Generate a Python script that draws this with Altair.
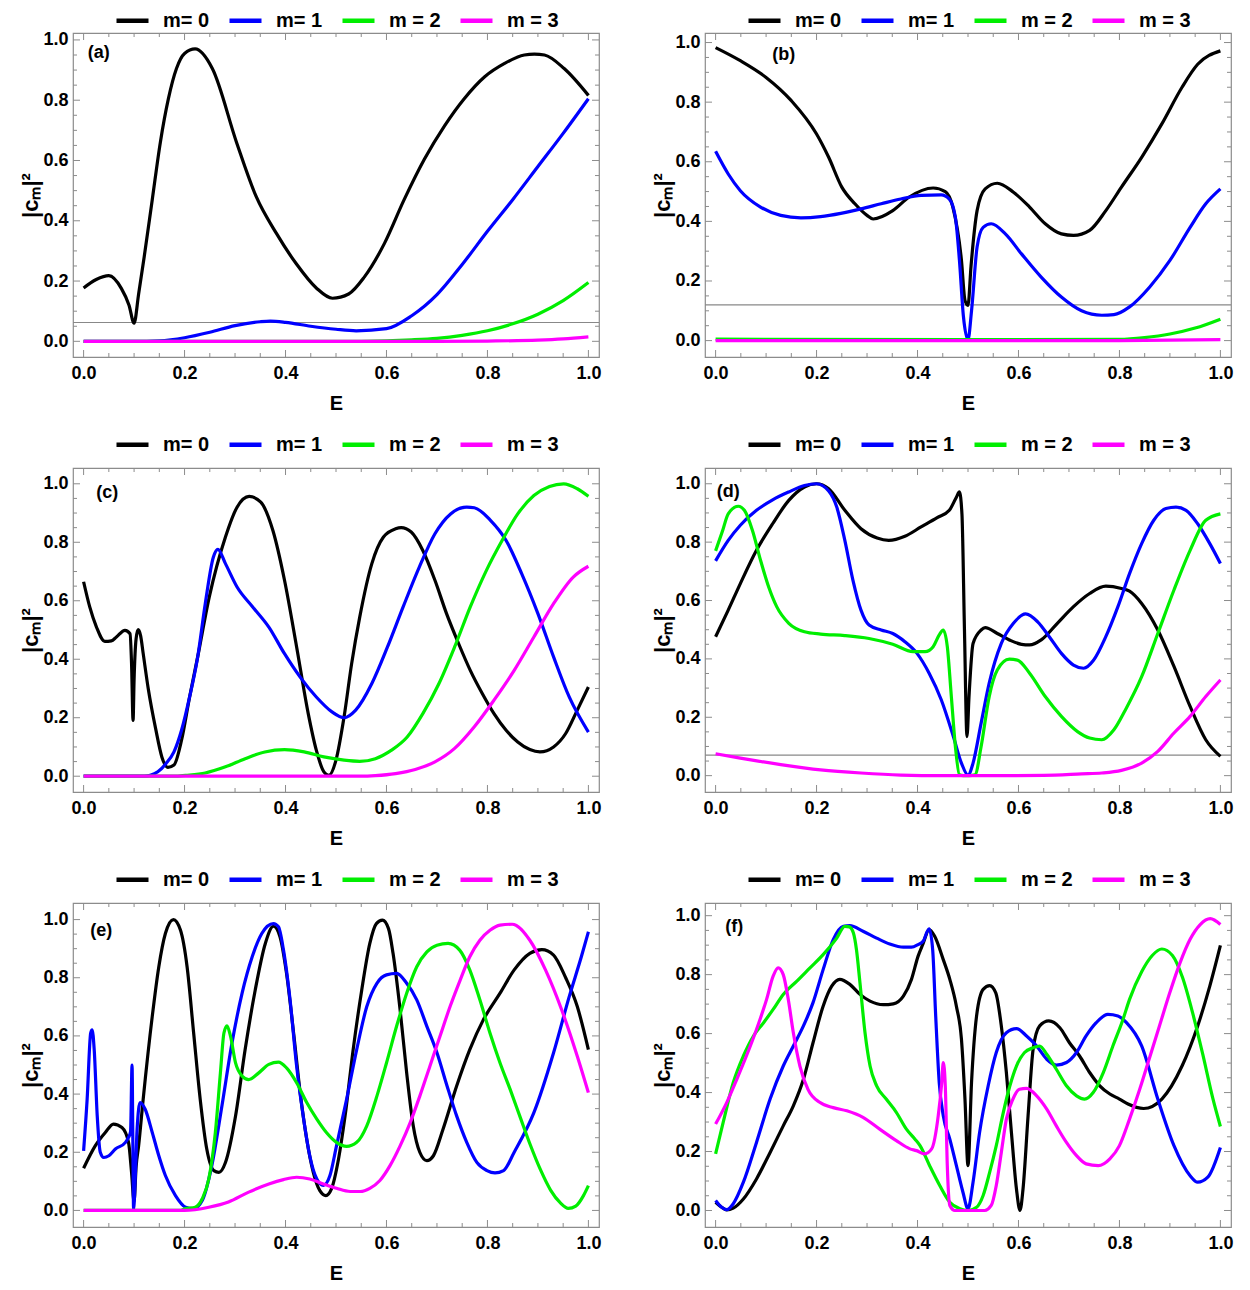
import altair as alt
import pandas as pd

SERIES = ["m= 0", "m= 1", "m = 2", "m = 3"]
COLORS = ["#000000", "#0000ff", "#00ee00", "#ff00ff"]
FONT = "Liberation Sans"

# ---------------- panel (a) ----------------
A0_E = [0, 0.025, 0.05, 0.075, 0.09, 0.1, 0.109, 0.12, 0.136, 0.152, 0.168, 0.184, 0.2, 0.221, 0.255, 0.303,
        0.342, 0.382, 0.421, 0.461, 0.493, 0.525, 0.556, 0.596, 0.635, 0.675, 0.715, 0.754, 0.794, 0.834,
        0.873, 0.893, 0.913, 0.952, 1.0]
A0_C = [0.177, 0.205, 0.218, 0.175, 0.12, 0.06, 0.157, 0.28, 0.47, 0.66, 0.805, 0.905, 0.955, 0.97, 0.905, 0.66,
        0.48, 0.358, 0.258, 0.177, 0.143, 0.157, 0.213, 0.325, 0.47, 0.604, 0.715, 0.805, 0.877, 0.922,
        0.95, 0.953, 0.95, 0.905, 0.816]
A1_E = [0, 0.1, 0.15, 0.2, 0.25, 0.3, 0.35, 0.37, 0.4, 0.45, 0.5, 0.54, 0.6, 0.65, 0.7, 0.75, 0.8, 0.85, 0.9, 0.95, 1.0]
A1_C = [0, 0, 0.002, 0.012, 0.03, 0.052, 0.065, 0.067, 0.063, 0.05, 0.04, 0.035, 0.042, 0.085, 0.155, 0.255,
        0.365, 0.47, 0.58, 0.69, 0.805]
A2_E = [0, 0.5, 0.6, 0.65, 0.7, 0.75, 0.8, 0.85, 0.9, 0.95, 1.0]
A2_C = [0, 0, 0.002, 0.005, 0.01, 0.02, 0.035, 0.058, 0.09, 0.135, 0.195]
A3_E = [0, 0.7, 0.8, 0.9, 0.95, 1.0]
A3_C = [0, 0, 0.001, 0.004, 0.008, 0.015]

# ---------------- panel (b) ----------------
B0_E = [0, 0.049, 0.1, 0.15, 0.2, 0.224, 0.25, 0.276, 0.3, 0.312, 0.351, 0.383, 0.431, 0.455, 0.47, 0.487,
        0.494, 0.5, 0.506, 0.518, 0.534, 0.558, 0.59, 0.622, 0.653, 0.685, 0.709, 0.741, 0.773, 0.804,
        0.844, 0.884, 0.924, 0.955, 1.0]
B0_C = [0.983, 0.939, 0.883, 0.805, 0.693, 0.615, 0.515, 0.459, 0.42, 0.408, 0.436, 0.481, 0.512, 0.5, 0.448,
        0.27, 0.135, 0.118, 0.25, 0.436, 0.509, 0.528, 0.498, 0.448, 0.392, 0.358, 0.353, 0.37, 0.436, 0.515,
        0.615, 0.727, 0.85, 0.927, 0.972]
B1_E = [0, 0.025, 0.049, 0.089, 0.129, 0.169, 0.208, 0.248, 0.288, 0.328, 0.367, 0.407, 0.447, 0.463, 0.475,
        0.483, 0.491, 0.5, 0.507, 0.518, 0.53, 0.546, 0.574, 0.606, 0.645, 0.685, 0.725, 0.765, 0.789, 0.82,
        0.86, 0.9, 0.94, 0.971, 1.0]
B1_C = [0.635, 0.559, 0.503, 0.448, 0.42, 0.412, 0.416, 0.427, 0.442, 0.459, 0.475, 0.487, 0.489, 0.475, 0.414,
        0.27, 0.08, 0.003, 0.1, 0.314, 0.38, 0.392, 0.358, 0.291, 0.213, 0.146, 0.1, 0.085, 0.087, 0.113,
        0.18, 0.269, 0.38, 0.459, 0.509]
B2_E = [0, 0.5, 0.8, 0.85, 0.9, 0.95, 1.0]
B2_C = [0.005, 0.003, 0.004, 0.01, 0.022, 0.042, 0.072]
B3_E = [0, 0.8, 1.0]
B3_C = [0, 0, 0.003]

# ---------------- panel (c) ----------------
C0_E = [0, 0.0123, 0.0255, 0.042, 0.055, 0.065, 0.082, 0.092, 0.095, 0.098, 0.1, 0.104, 0.108, 0.113, 0.118,
        0.128, 0.143, 0.155, 0.167, 0.179, 0.194, 0.21, 0.226, 0.249, 0.281, 0.304, 0.328, 0.351, 0.375,
        0.398, 0.422, 0.445, 0.461, 0.476, 0.486, 0.5, 0.516, 0.531, 0.547, 0.571, 0.594, 0.618, 0.629,
        0.649, 0.672, 0.696, 0.719, 0.743, 0.766, 0.79, 0.813, 0.837, 0.86, 0.884, 0.904, 0.931, 0.955,
        0.978, 1.0]
C0_C = [0.665, 0.578, 0.51, 0.461, 0.463, 0.476, 0.499, 0.487, 0.385, 0.191, 0.33, 0.47, 0.501, 0.48, 0.42,
        0.3, 0.16, 0.066, 0.03, 0.038, 0.123, 0.271, 0.408, 0.613, 0.818, 0.92, 0.957, 0.937, 0.84,
        0.67, 0.442, 0.214, 0.089, 0.015, 0.003, 0.055, 0.203, 0.385, 0.544, 0.727, 0.818, 0.846, 0.85,
        0.835, 0.772, 0.67, 0.556, 0.453, 0.362, 0.282, 0.214, 0.157, 0.117, 0.091, 0.083, 0.1, 0.146,
        0.226, 0.305]
C1_E = [0, 0.12, 0.132, 0.147, 0.163, 0.179, 0.194, 0.21, 0.226, 0.241, 0.257, 0.266, 0.281, 0.304, 0.335,
        0.367, 0.398, 0.429, 0.461, 0.492, 0.516, 0.539, 0.571, 0.602, 0.633, 0.665, 0.696, 0.727, 0.759,
        0.774, 0.806, 0.837, 0.868, 0.9, 0.931, 0.962, 1.0]
C1_C = [0, 0, 0.003, 0.015, 0.043, 0.083, 0.157, 0.271, 0.408, 0.59, 0.749, 0.776, 0.727, 0.647, 0.579,
        0.51, 0.419, 0.339, 0.271, 0.22, 0.2, 0.226, 0.317, 0.442, 0.579, 0.715, 0.829, 0.897, 0.92,
        0.918, 0.875, 0.806, 0.692, 0.556, 0.408, 0.271, 0.151]
C2_E = [0, 0.18, 0.202, 0.241, 0.281, 0.32, 0.359, 0.398, 0.437, 0.476, 0.516, 0.547, 0.578, 0.61, 0.641,
        0.672, 0.704, 0.735, 0.766, 0.798, 0.829, 0.86, 0.892, 0.923, 0.951, 0.978, 1.0]
C2_C = [0, 0, 0.003, 0.011, 0.032, 0.06, 0.083, 0.091, 0.083, 0.066, 0.055, 0.051, 0.06, 0.089, 0.134,
        0.214, 0.317, 0.442, 0.579, 0.704, 0.806, 0.897, 0.96, 0.991, 1.0, 0.983, 0.957]
C3_E = [0, 0.55, 0.578, 0.618, 0.657, 0.696, 0.735, 0.774, 0.813, 0.853, 0.892, 0.931, 0.97, 1.0]
C3_C = [0, 0, 0.002, 0.009, 0.023, 0.049, 0.095, 0.169, 0.26, 0.362, 0.476, 0.59, 0.681, 0.718]

# ---------------- panel (d) ----------------
D0_E = [0, 0.025, 0.049, 0.081, 0.113, 0.145, 0.176, 0.2, 0.224, 0.256, 0.288, 0.32, 0.343, 0.375, 0.407,
        0.439, 0.463, 0.477, 0.483, 0.488, 0.493, 0.498, 0.502, 0.51, 0.526, 0.534, 0.558, 0.582, 0.606,
        0.622, 0.645, 0.677, 0.709, 0.741, 0.773, 0.804, 0.82, 0.844, 0.876, 0.908, 0.94, 0.971, 1.0]
D0_C = [0.476, 0.567, 0.658, 0.772, 0.863, 0.943, 0.989, 1.0, 0.983, 0.909, 0.846, 0.814, 0.806, 0.82, 0.852,
        0.884, 0.909, 0.954, 0.972, 0.897, 0.499, 0.134, 0.271, 0.453, 0.499, 0.507, 0.487, 0.465, 0.45,
        0.448, 0.465, 0.522, 0.579, 0.624, 0.649, 0.641, 0.632, 0.59, 0.499, 0.374, 0.237, 0.123, 0.066]
D1_E = [0, 0.025, 0.049, 0.081, 0.113, 0.145, 0.176, 0.2, 0.224, 0.24, 0.256, 0.272, 0.288, 0.304, 0.328,
        0.351, 0.375, 0.399, 0.423, 0.447, 0.471, 0.487, 0.5, 0.51, 0.526, 0.542, 0.566, 0.59, 0.614, 0.638,
        0.661, 0.685, 0.709, 0.729, 0.749, 0.773, 0.797, 0.82, 0.844, 0.868, 0.892, 0.912, 0.932, 0.955,
        0.979, 1.0]
D1_C = [0.736, 0.806, 0.858, 0.909, 0.945, 0.972, 0.994, 1.0, 0.975, 0.92, 0.806, 0.67, 0.567, 0.516, 0.499,
        0.487, 0.459, 0.419, 0.351, 0.26, 0.134, 0.043, 0.002, 0.043, 0.18, 0.317, 0.453, 0.522, 0.554, 0.527,
        0.476, 0.419, 0.379, 0.368, 0.396, 0.476, 0.579, 0.692, 0.795, 0.875, 0.915, 0.92, 0.909, 0.863,
        0.795, 0.727]
D2_E = [0, 0.014, 0.025, 0.045, 0.057, 0.073, 0.089, 0.105, 0.121, 0.145, 0.176, 0.208, 0.256, 0.304, 0.351,
        0.391, 0.415, 0.431, 0.443, 0.451, 0.459, 0.467, 0.475, 0.483, 0.491, 0.502, 0.514, 0.526, 0.542,
        0.558, 0.582, 0.598, 0.622, 0.653, 0.685, 0.717, 0.741, 0.765, 0.789, 0.812, 0.844, 0.876, 0.908,
        0.94, 0.971, 1.0]
D2_C = [0.77, 0.84, 0.897, 0.923, 0.909, 0.84, 0.738, 0.647, 0.579, 0.522, 0.493, 0.485, 0.48, 0.47, 0.45,
        0.425, 0.425, 0.442, 0.482, 0.499, 0.442, 0.271, 0.1, 0.003, 0.0, 0.0, 0.003, 0.1, 0.271,
        0.362, 0.399, 0.396, 0.351, 0.271, 0.203, 0.151, 0.129, 0.123, 0.157, 0.226, 0.339, 0.487, 0.636,
        0.772, 0.875, 0.897]
D3_E = [0, 0.049, 0.129, 0.208, 0.288, 0.367, 0.45, 0.55, 0.65, 0.725, 0.765, 0.804, 0.844, 0.876, 0.908,
        0.94, 0.971, 1.0]
D3_C = [0.075, 0.06, 0.038, 0.02, 0.009, 0.002, 0.0, 0.0, 0.001, 0.006, 0.009, 0.018, 0.043, 0.083, 0.146,
        0.203, 0.271, 0.328]

# ---------------- panel (e) ----------------
E0_E = [0, 0.023, 0.043, 0.059, 0.076, 0.089, 0.095, 0.1, 0.104, 0.109, 0.118, 0.136, 0.149, 0.162, 0.178,
        0.192, 0.205, 0.218, 0.231, 0.244, 0.258, 0.268, 0.281, 0.301, 0.32, 0.34, 0.36, 0.376, 0.389,
        0.402, 0.416, 0.429, 0.442, 0.455, 0.468, 0.48, 0.491, 0.505, 0.518, 0.534, 0.551, 0.567, 0.58,
        0.592, 0.604, 0.613, 0.627, 0.64, 0.653, 0.666, 0.68, 0.693, 0.712, 0.739, 0.765, 0.792, 0.825,
        0.853, 0.884, 0.908, 0.931, 0.955, 0.978, 1.0]
E0_C = [0.145, 0.222, 0.268, 0.297, 0.285, 0.234, 0.131, 0.03, 0.15, 0.222, 0.382, 0.667, 0.838, 0.952, 1.0,
        0.963, 0.838, 0.61, 0.382, 0.211, 0.137, 0.131, 0.165, 0.325, 0.553, 0.758, 0.918, 0.977, 0.941,
        0.815, 0.61, 0.405, 0.245, 0.131, 0.068, 0.051, 0.074, 0.177, 0.325, 0.553, 0.758, 0.918, 0.986,
        0.998, 0.969, 0.884, 0.69, 0.473, 0.291, 0.2, 0.171, 0.188, 0.279, 0.428, 0.553, 0.656, 0.747,
        0.827, 0.884, 0.897, 0.878, 0.8, 0.701, 0.553]
E1_E = [0, 0.007, 0.014, 0.017, 0.021, 0.027, 0.033, 0.04, 0.05, 0.063, 0.083, 0.089, 0.093, 0.096, 0.0975,
        0.099, 0.1025, 0.106, 0.112, 0.122, 0.136, 0.149, 0.162, 0.182, 0.202, 0.218, 0.235, 0.254, 0.274,
        0.294, 0.314, 0.334, 0.353, 0.376, 0.386, 0.396, 0.409, 0.422, 0.435, 0.448, 0.462, 0.475, 0.488,
        0.501, 0.521, 0.541, 0.561, 0.581, 0.6, 0.62, 0.64, 0.66, 0.68, 0.7, 0.72, 0.739, 0.759, 0.779,
        0.799, 0.815, 0.832, 0.853, 0.892, 0.931, 0.962, 0.986, 1.0]
E1_C = [0.205, 0.382, 0.61, 0.621, 0.553, 0.325, 0.2, 0.182, 0.188, 0.211, 0.234, 0.251, 0.27, 0.5, 0.25,
        0.003, 0.12, 0.28, 0.371, 0.348, 0.268, 0.188, 0.12, 0.051, 0.011, 0.006, 0.034, 0.154, 0.359,
        0.576, 0.747, 0.872, 0.952, 0.986, 0.975, 0.895, 0.724, 0.496, 0.325, 0.188, 0.108, 0.086, 0.12,
        0.222, 0.382, 0.553, 0.701, 0.781, 0.81, 0.815, 0.781, 0.724, 0.633, 0.542, 0.428, 0.325, 0.234, 0.165,
        0.137, 0.129, 0.137, 0.2, 0.336, 0.542, 0.735, 0.872, 0.958]
E2_E = [0, 0.19, 0.202, 0.221, 0.235, 0.248, 0.261, 0.271, 0.278, 0.284, 0.291, 0.301, 0.314, 0.327, 0.347,
        0.367, 0.386, 0.402, 0.422, 0.442, 0.462, 0.481, 0.501, 0.521, 0.541, 0.561, 0.581, 0.6, 0.62, 0.64,
        0.66, 0.68, 0.7, 0.722, 0.745, 0.765, 0.785, 0.805, 0.825, 0.845, 0.865, 0.885, 0.905, 0.925, 0.945,
        0.96, 0.975, 0.99, 1.0]
E2_C = [0, 0, 0.006, 0.011, 0.04, 0.108, 0.268, 0.473, 0.61, 0.635, 0.599, 0.507, 0.462, 0.45, 0.473,
        0.502, 0.51, 0.49, 0.439, 0.371, 0.314, 0.268, 0.234, 0.22, 0.234, 0.291, 0.393, 0.507, 0.633, 0.747,
        0.838, 0.889, 0.912, 0.918, 0.895, 0.827, 0.724, 0.61, 0.507, 0.416, 0.32, 0.225, 0.14, 0.07, 0.025,
        0.007, 0.015, 0.05, 0.085]
E3_E = [0, 0.2, 0.248, 0.287, 0.327, 0.367, 0.396, 0.422, 0.448, 0.475, 0.501, 0.528, 0.548, 0.567, 0.587,
        0.607, 0.627, 0.647, 0.666, 0.686, 0.706, 0.726, 0.746, 0.765, 0.785, 0.805, 0.825, 0.849, 0.884,
        0.915, 0.947, 0.978, 1.0]
E3_C = [0, 0, 0.011, 0.029, 0.063, 0.091, 0.106, 0.114, 0.108, 0.091, 0.076, 0.065, 0.065, 0.076, 0.103,
        0.154, 0.222, 0.302, 0.393, 0.496, 0.599, 0.701, 0.792, 0.872, 0.929, 0.963, 0.981, 0.984, 0.929,
        0.827, 0.69, 0.53, 0.405]

# ---------------- panel (f) ----------------
F0_E = [0, 0.012, 0.022, 0.035, 0.055, 0.081, 0.108, 0.134, 0.154, 0.174, 0.193, 0.213, 0.23, 0.246, 0.266,
        0.286, 0.306, 0.332, 0.352, 0.372, 0.388, 0.401, 0.411, 0.423, 0.434, 0.451, 0.464, 0.477, 0.487,
        0.494, 0.5, 0.507, 0.517, 0.53, 0.543, 0.555, 0.566, 0.576, 0.586, 0.596, 0.603, 0.609, 0.619,
        0.629, 0.642, 0.66, 0.682, 0.701, 0.721, 0.741, 0.761, 0.781, 0.8, 0.817, 0.848, 0.884, 0.924,
        0.955, 0.979, 1.0]
F0_C = [0.028, 0.011, 0.002, 0.008, 0.039, 0.107, 0.197, 0.287, 0.355, 0.445, 0.569, 0.693, 0.761, 0.784, 0.767,
        0.733, 0.71, 0.698, 0.701, 0.727, 0.784, 0.862, 0.905, 0.953, 0.93, 0.851, 0.784, 0.693, 0.581,
        0.378, 0.152, 0.434, 0.66, 0.75, 0.763, 0.738, 0.626, 0.468, 0.265, 0.073, 0.0, 0.073, 0.321,
        0.547, 0.626, 0.643, 0.62, 0.569, 0.524, 0.468, 0.423, 0.395, 0.378, 0.361, 0.346, 0.378, 0.49,
        0.626, 0.761, 0.899]
F1_E = [0, 0.012, 0.022, 0.035, 0.055, 0.081, 0.108, 0.134, 0.154, 0.174, 0.193, 0.213, 0.233, 0.253, 0.266,
        0.292, 0.319, 0.345, 0.372, 0.388, 0.401, 0.411, 0.423, 0.43, 0.436, 0.443, 0.451, 0.464, 0.477,
        0.49, 0.5, 0.51, 0.523, 0.54, 0.556, 0.576, 0.596, 0.616, 0.636, 0.656, 0.675, 0.695, 0.715, 0.734,
        0.754, 0.777, 0.797, 0.814, 0.844, 0.876, 0.908, 0.94, 0.955, 0.975, 1.0]
F1_C = [0.034, 0.011, 0.003, 0.023, 0.096, 0.231, 0.378, 0.49, 0.558, 0.626, 0.705, 0.817, 0.919, 0.964, 0.966,
        0.947, 0.924, 0.904, 0.893, 0.893, 0.902, 0.913, 0.955, 0.885, 0.66, 0.434, 0.321, 0.242, 0.152,
        0.062, 0.006, 0.096, 0.265, 0.423, 0.536, 0.603, 0.617, 0.592, 0.558, 0.513, 0.493, 0.502, 0.536, 0.592,
        0.637, 0.665, 0.66, 0.637, 0.558, 0.378, 0.22, 0.118, 0.096, 0.113, 0.214]
F2_E = [0, 0.015, 0.035, 0.055, 0.075, 0.095, 0.114, 0.134, 0.161, 0.187, 0.213, 0.24, 0.256, 0.265, 0.273,
        0.279, 0.286, 0.296, 0.306, 0.319, 0.338, 0.358, 0.378, 0.395, 0.405, 0.424, 0.444, 0.464, 0.484,
        0.5, 0.517, 0.53, 0.543, 0.556, 0.57, 0.583, 0.596, 0.612, 0.629, 0.642, 0.656, 0.675, 0.695, 0.715,
        0.731, 0.748, 0.768, 0.787, 0.807, 0.82, 0.844, 0.865, 0.884, 0.905, 0.925, 0.945, 0.965, 0.985, 1.0]
F2_C = [0.192, 0.299, 0.434, 0.524, 0.592, 0.637, 0.682, 0.733, 0.778, 0.823, 0.868, 0.924, 0.964, 0.962, 0.941,
        0.885, 0.772, 0.603, 0.49, 0.423, 0.378, 0.333, 0.276, 0.242, 0.22, 0.152, 0.085, 0.028, 0.006,
        0.0, 0.011, 0.051, 0.13, 0.22, 0.333, 0.423, 0.49, 0.536, 0.552, 0.558, 0.53, 0.479, 0.423, 0.389,
        0.378, 0.4, 0.468, 0.558, 0.648, 0.716, 0.81, 0.865, 0.887, 0.865, 0.79, 0.67, 0.53, 0.38, 0.285]
F3_E = [0, 0.022, 0.042, 0.061, 0.081, 0.101, 0.114, 0.124, 0.134, 0.144, 0.154, 0.167, 0.183, 0.207, 0.233,
        0.26, 0.292, 0.325, 0.358, 0.385, 0.398, 0.414, 0.428, 0.441, 0.448, 0.451, 0.455, 0.459, 0.464,
        0.474, 0.5, 0.533, 0.546, 0.556, 0.566, 0.576, 0.589, 0.602, 0.616, 0.636, 0.656, 0.675, 0.695,
        0.715, 0.734, 0.758, 0.781, 0.8, 0.82, 0.84, 0.86, 0.88, 0.9, 0.92, 0.94, 0.96, 0.98, 1.0]
F3_C = [0.293, 0.366, 0.445, 0.524, 0.614, 0.716, 0.795, 0.823, 0.8, 0.716, 0.603, 0.49, 0.411, 0.366, 0.349,
        0.338, 0.316, 0.276, 0.237, 0.209, 0.203, 0.192, 0.209, 0.321, 0.434, 0.502, 0.423, 0.152, 0.017,
        0.0, 0.0, 0.0, 0.017, 0.085, 0.197, 0.31, 0.378, 0.411, 0.414, 0.389, 0.344, 0.287, 0.231,
        0.186, 0.158, 0.152, 0.175, 0.22, 0.31, 0.41, 0.52, 0.63, 0.74, 0.84, 0.92, 0.97, 0.99, 0.97]

# panel labels, reference lines, y ranges
PANEL_LABELS = ["(a)", "(b)", "(c)", "(d)", "(e)", "(f)"]
LABEL_E = [0.03, 0.135, 0.047, 0.025, 0.035, 0.037]
LABEL_C = [0.955, 0.958, 0.968, 0.971, 0.961, 0.962]
HLINES = [0.0625, 0.12, None, 0.0706, None, None]
Y_LO = [-0.052, -0.055, -0.054, -0.056, -0.057, -0.056]
Y_HI = [1.023, 1.032, 1.054, 1.054, 1.057, 1.043]
X_DOMAIN = [-0.021, 1.021]

X_MAJOR = [0.0, 0.2, 0.4, 0.6, 0.8, 1.0]
X_MINOR = [0.05, 0.1, 0.15, 0.25, 0.3, 0.35, 0.45, 0.5, 0.55, 0.65, 0.7, 0.75, 0.85, 0.9, 0.95]
Y_MAJOR = [0.0, 0.2, 0.4, 0.6, 0.8, 1.0]
Y_MINOR = [0.05, 0.1, 0.15, 0.25, 0.3, 0.35, 0.45, 0.5, 0.55, 0.65, 0.7, 0.75, 0.85, 0.9, 0.95]

PANELS = [
    [(A0_E, A0_C), (A1_E, A1_C), (A2_E, A2_C), (A3_E, A3_C)],
    [(B0_E, B0_C), (B1_E, B1_C), (B2_E, B2_C), (B3_E, B3_C)],
    [(C0_E, C0_C), (C1_E, C1_C), (C2_E, C2_C), (C3_E, C3_C)],
    [(D0_E, D0_C), (D1_E, D1_C), (D2_E, D2_C), (D3_E, D3_C)],
    [(E0_E, E0_C), (E1_E, E1_C), (E2_E, E2_C), (E3_E, E3_C)],
    [(F0_E, F0_C), (F1_E, F1_C), (F2_E, F2_C), (F3_E, F3_C)],
]

W, H = 526, 324
FRAME = "#8c8c8c"
MAJ_LEN, MIN_LEN = 7, 4


def panel(i):
    rows = []
    for k, (es, cs) in enumerate(PANELS[i]):
        for e, c in zip(es, cs):
            rows.append({"E": e, "c": c, "m": SERIES[k], "o": k})
    df = pd.DataFrame(rows)

    xenc = alt.X("E:Q", scale=alt.Scale(domain=X_DOMAIN, nice=False, zero=False),
                 axis=alt.Axis(values=X_MAJOR, format=".1f", title="E"))
    yenc = alt.Y("c:Q", scale=alt.Scale(domain=[Y_LO[i], Y_HI[i]], nice=False, zero=False),
                 axis=alt.Axis(values=Y_MAJOR, format=".1f", title="|cₘ|²"))

    leg_y = -31 if i < 2 else -42
    lines = alt.Chart(df).mark_line(strokeWidth=3.2, interpolate="monotone").encode(
        x=xenc, y=yenc,
        color=alt.Color("m:N", sort=SERIES,
                        scale=alt.Scale(domain=SERIES, range=COLORS),
                        legend=alt.Legend(title=None, orient="none", direction="horizontal",
                                          legendX=41, legendY=leg_y,
                                          symbolType="stroke", symbolStrokeWidth=4.5, symbolSize=1024,
                                          labelFont=FONT, labelFontSize=20, labelFontWeight="bold",
                                          labelColor="black", labelOffset=12, columnPadding=10)),
        order="o:Q",
    )
    layers = []
    if HLINES[i] is not None:
        layers.append(alt.Chart(pd.DataFrame({"c": [HLINES[i]]})).mark_rule(
            color="#888888", strokeWidth=1.2).encode(y=yenc))
    layers.append(lines)
    lab = pd.DataFrame({"E": [LABEL_E[i]], "c": [LABEL_C[i]], "t": [PANEL_LABELS[i]]})
    layers.append(alt.Chart(lab).mark_text(font=FONT, fontSize=18, fontWeight="bold", color="black").encode(
        x=xenc, y=yenc, text="t:N"))
    for vals, ln in ((X_MAJOR, MAJ_LEN), (X_MINOR, MIN_LEN)):
        d = pd.DataFrame({"E": vals})
        layers.append(alt.Chart(d).mark_rule(color=FRAME, strokeWidth=1).encode(
            x=xenc, y=alt.value(0), y2=alt.value(ln)))
        layers.append(alt.Chart(d).mark_rule(color=FRAME, strokeWidth=1).encode(
            x=xenc, y=alt.value(H), y2=alt.value(H - ln)))
    for vals, ln in ((Y_MAJOR, MAJ_LEN), (Y_MINOR, MIN_LEN)):
        d = pd.DataFrame({"c": vals})
        layers.append(alt.Chart(d).mark_rule(color=FRAME, strokeWidth=1).encode(
            y=yenc, x=alt.value(0), x2=alt.value(ln)))
        layers.append(alt.Chart(d).mark_rule(color=FRAME, strokeWidth=1).encode(
            y=yenc, x=alt.value(W), x2=alt.value(W - ln)))
    return alt.layer(*layers).properties(width=W, height=H)


chart = alt.concat(*[panel(i) for i in range(6)], columns=2, bounds="flush",
                   spacing={"row": 111, "column": 106}).resolve_scale(color="independent").properties(
    padding={"left": 11, "top": -7, "right": 2, "bottom": 0}
).configure_view(stroke=FRAME, strokeWidth=1.2).configure_axis(
    domain=False, ticks=False, grid=False,
    labelFont=FONT, labelFontSize=18, labelFontWeight="bold", labelColor="black",
    titleFont=FONT, titleFontSize=20, titleFontWeight="bold", titleColor="black",
).configure_axisX(labelPadding=7, titlePadding=11).configure_axisY(
    labelPadding=5, titlePadding=0, titleFontSize=22)

chart.save("out.html", embed_options={"renderer": "svg", "actions": False})
